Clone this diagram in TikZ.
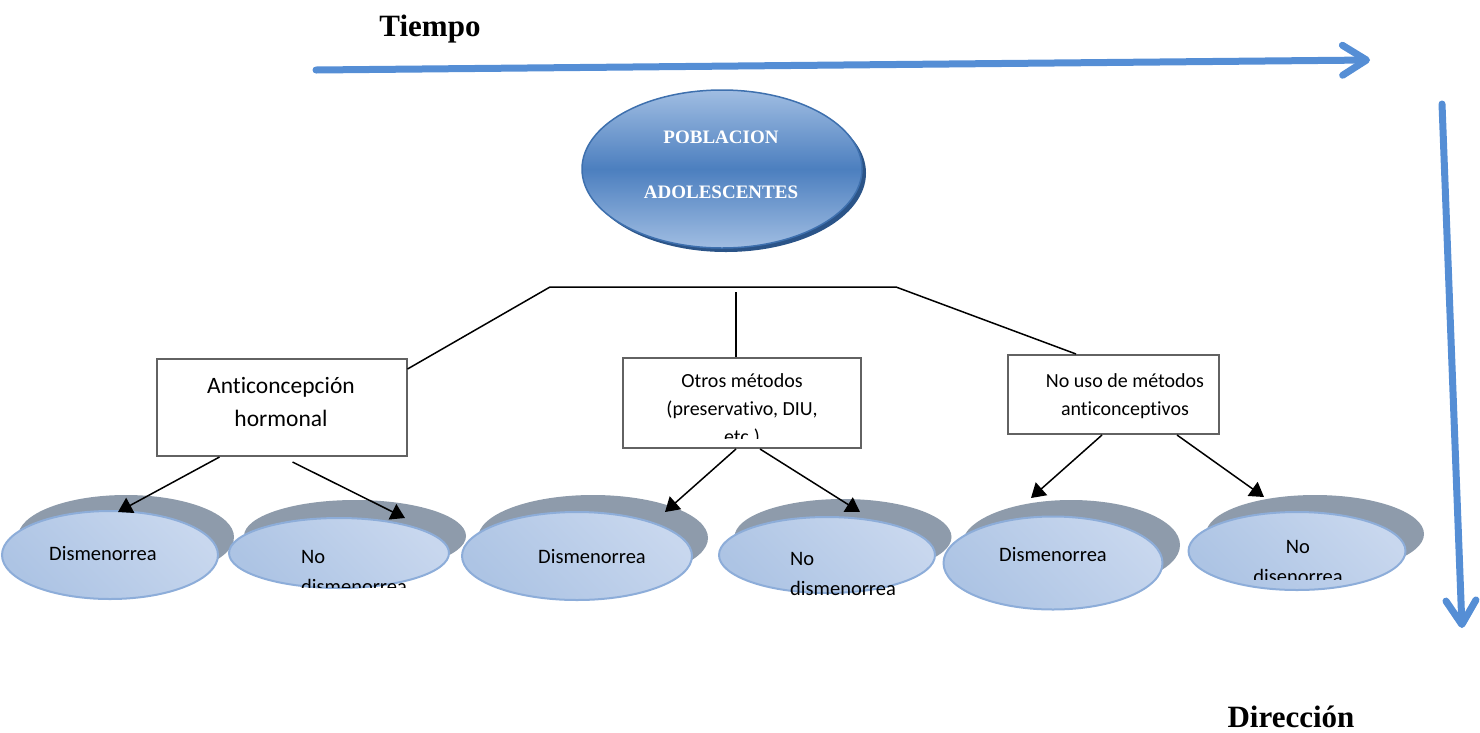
\documentclass[tikz,border=0pt]{standalone}
\usepackage{fontspec}
\setmainfont{Liberation Serif}
\newfontfamily\calfont[Ligatures=NoCommon]{Carlito}
\usetikzlibrary{arrows.meta,shapes.geometric,calc}
\definecolor{arrowblue}{HTML}{558ED5}
\definecolor{shadowgray}{HTML}{8E9BAB}
\definecolor{ellight}{HTML}{C8D7EE}
\definecolor{eldark}{HTML}{8FADD7}
\definecolor{elbottom}{HTML}{ADC4E4}
\definecolor{elborder}{HTML}{8DADD9}
\definecolor{topmid}{HTML}{4C7FBF}
\definecolor{toplight}{HTML}{A0BDE2}
\definecolor{topshadow}{HTML}{2B5488}
\definecolor{topborder}{HTML}{3E70AE}
\definecolor{boxborder}{HTML}{626262}
\begin{document}
\begin{tikzpicture}[x=1pt,y=-1pt,
  bigarrow/.style={draw=arrowblue, line width=7pt, line cap=round, line join=round,
    -{Straight Barb[length=24pt,width=30pt,round]}},
  title/.style={font=\bfseries\fontsize{31}{36}\selectfont, inner sep=0},
  flowbox/.style={draw=boxborder, line width=2pt, fill=white, inner sep=0, rectangle},
  boxtext/.style={font=\calfont\fontsize{20}{28}\selectfont, align=center, inner sep=0},
  link/.style={draw=black, line width=1.5pt},
  arr/.style={draw=black, line width=1.5pt, -{Triangle[length=14pt,width=17pt]}},
  shadowell/.style={ellipse, fill=shadowgray, draw=none, inner sep=0},
  leaf/.style={ellipse, draw=elborder, line width=2pt, inner sep=0,
    top color=ellight, middle color=eldark, bottom color=elbottom, shading angle=-45},
  leaftext/.style={font=\calfont\fontsize{20.5}{30}\selectfont, inner sep=0},
  toptext/.style={font=\bfseries\fontsize{19}{22}\selectfont, text=white, inner sep=0}
]
\useasboundingbox (0,0) rectangle (1480,732);

% time and direction arrows
\node[title] (tiempo) at (430,29) {Tiempo};
\node[title] (direccion) at (1291,717) {Dirección};
\coordinate (t0) at (316,70);
\coordinate (t1) at (1370,60);
\draw[bigarrow] (t0) -- (t1);
\coordinate (d0) at (1442,104);
\coordinate (d1) at (1462,628);
\draw[bigarrow] (d0) -- (d1);

% top ellipse
\node[ellipse, fill=topshadow, minimum width=280pt, minimum height=158pt, inner sep=0] (popshadow) at (726,173) {};
\node[ellipse, draw=topborder, line width=1.5pt, minimum width=280pt, minimum height=158pt, inner sep=0,
  top color=toplight, bottom color=toplight, middle color=topmid] (pop) at (722,169) {};
\node[toptext] (popa) at (721,137) {POBLACION};
\node[toptext] (popb) at (721,192) {ADOLESCENTES};

% boxes
\node[flowbox, minimum width=250pt, minimum height=97pt] (b1) at (281.5,407.5) {};
\node[boxtext, font=\calfont\fontsize{23.5}{33}\selectfont] (b1t) at (281,402) {Anticoncepción\\hormonal};
\node[flowbox, minimum width=238pt, minimum height=90pt] (b2) at (742,403) {};
\begin{scope}
  \clip (624,359) rectangle (860,438.5);
  \node[boxtext, anchor=north] (b2t) at (742,373) {Otros métodos\\(preservativo, DIU,\\etc.)};
\end{scope}
\node[flowbox, minimum width=211pt, minimum height=79pt] (b3) at (1113.5,394.5) {};
\node[boxtext] (b3t) at (1125,396) {No uso de métodos\\anticonceptivos};

% tree lines
\coordinate (hl) at (550,287);
\coordinate (hr) at (896,287);
\coordinate (hv) at (736,292);
\draw[link] (b1.north east |- 0,369) -- (hl) -- (hr) -- ($(b3.north west)+(69,0)$);
\draw[link] (hv) -- (b2.north -| hv);

% leaf ellipses
\node[shadowell, minimum width=216pt, minimum height=84pt] (s1) at (126,537) {};
\node[leaf, minimum width=216pt, minimum height=88pt] (e1) at (110,555) {};
\node[shadowell, minimum width=222pt, minimum height=72pt] (s2) at (355,536) {};
\node[leaf, minimum width=220pt, minimum height=70pt] (e2) at (339,553) {};
\node[shadowell, minimum width=230pt, minimum height=86pt] (s3) at (593,538) {};
\node[leaf, minimum width=230pt, minimum height=88pt] (e3) at (577,556) {};
\node[shadowell, minimum width=217pt, minimum height=76pt] (s4) at (843,537) {};
\node[leaf, minimum width=216pt, minimum height=76pt] (e4) at (827,555) {};
\node[shadowell, minimum width=218pt, minimum height=90pt] (s5) at (1071,545) {};
\node[leaf, minimum width=219pt, minimum height=93pt] (e5) at (1053,563) {};
\node[shadowell, minimum width=218pt, minimum height=78pt] (s6) at (1315,534) {};
\node[leaf, minimum width=217pt, minimum height=78pt] (e6) at (1297,551) {};

\node[leaftext] (e1t) at (103,554) {Dismenorrea};
\begin{scope}
  \clip (250,520) rectangle (460,587);
  \node[leaftext, align=left, anchor=north west] (e2t) at (301,550) {No\\dismenorrea};
\end{scope}
\node[leaftext] (e3t) at (592,557) {Dismenorrea};
\node[leaftext, align=left, anchor=north west] (e4t) at (790,552) {No\\dismenorrea};
\node[leaftext] (e5t) at (1053,555) {Dismenorrea};
\begin{scope}
  \clip (1200,520) rectangle (1400,579);
  \node[leaftext, align=center, anchor=north] (e6t) at (1298,540) {No\\disenorrea};
\end{scope}

% arrows from boxes to leaves
\draw[arr] ($(b1.south west)+(64,0)$) -- (118,512);
\draw[arr] ($(b1.south west)+(137,5)$) -- (405,518);
\draw[arr] ($(b2.south)+(-6,0)$) -- (665,512);
\draw[arr] ($(b2.south)+(18,0)$) -- (860,512);
\draw[arr] ($(b3.south west)+(95,0)$) -- (1031,498);
\draw[arr] ($(b3.south west)+(170,0)$) -- (1264,497);
\end{tikzpicture}
\end{document}
